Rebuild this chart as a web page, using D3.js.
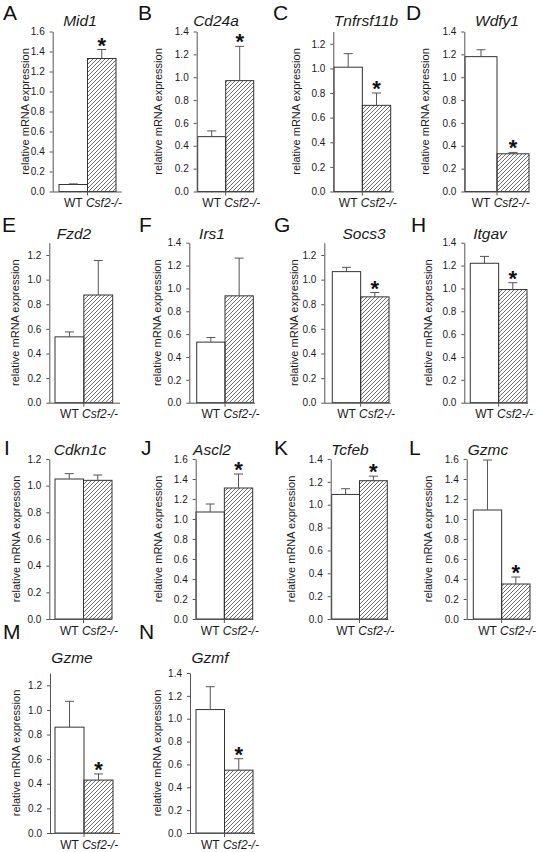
<!DOCTYPE html>
<html><head><meta charset="utf-8">
<script src="https://cdn.jsdelivr.net/npm/d3@7"></script>
<style>body{margin:0;background:#fff} svg{display:block;font-family:"Liberation Sans",Arial,sans-serif}</style>
</head><body>
<svg id="c" width="538" height="852"></svg>
<script>
// ---------- data ----------
const panelLetters = ["A","B","C","D","E","F","G","H","I","J","K","L","M","N"];
const genes = ["Mid1","Cd24a","Tnfrsf11b","Wdfy1","Fzd2","Irs1","Socs3","Itgav","Cdkn1c","Ascl2","Tcfeb","Gzmc","Gzme","Gzmf"];
const groups = ["WT","Csf2-/-"];
const wtMean = [0.07,0.48,1.01,1.18,0.535,0.53,1.065,1.22,1.05,1.07,1.09,1.09,0.86,1.08];
const wtErr  = [0.006,0.05,0.11,0.06,0.04,0.04,0.035,0.06,0.04,0.08,0.05,0.50,0.21,0.20];
const koMean = [1.33,0.97,0.70,0.33,0.875,0.935,0.86,0.99,1.04,1.31,1.21,0.35,0.43,0.55];
const koErr  = [0.09,0.30,0.10,0.012,0.28,0.33,0.035,0.06,0.04,0.14,0.04,0.07,0.05,0.10];
const significant = [true,true,true,true,false,false,true,true,false,true,true,true,true,true];
const yMax = [1.6,1.4,1.3,1.4,1.3,1.4,1.3,1.4,1.2,1.6,1.4,1.6,1.3,1.4];
const tickStep = 0.2;
const yLabel = "relative mRNA expression";

// ---------- layout (positions only) ----------
const rows = [
  {bot:191.5, letterY:20,  titleY:26},
  {bot:402.7, letterY:232, titleY:238.5},
  {bot:619,   letterY:455, titleY:454.5},
  {bot:833,   letterY:639, titleY:663}
];
const plotH = 160;
// ax: y-axis x, b0/b1: bars extent, xe: x-axis end, lx: y label x, tx: title x, gx: letter x
const layout = [
  {row:0, ax:52.7, b0:59,   b1:116,   xe:121.7, lx:25,    tx:80,  gx:3},
  {row:0, ax:196.7,b0:197.7,b1:253.7, xe:254,   lx:158,   tx:216, gx:138},
  {row:0, ax:333.3,b0:334,  b1:390.7, xe:394,   lx:296,   tx:366, gx:273},
  {row:0, ax:464.3,b0:465,  b1:529,   xe:530,   lx:425,   tx:497, gx:406},
  {row:1, ax:49.3, b0:55,   b1:112.7, xe:120,   lx:15,    tx:74,  gx:2},
  {row:1, ax:189.3,b0:196.7,b1:253.3, xe:255,   lx:156.7, tx:212, gx:139},
  {row:1, ax:324.3,b0:332.3,b1:389,   xe:390.7, lx:294,   tx:364, gx:274},
  {row:1, ax:464.3,b0:470.3,b1:527,   xe:528,   lx:427.5, tx:490, gx:411},
  {row:2, ax:49.3, b0:55,   b1:112,   xe:112,   lx:15.8,  tx:80,  gx:4},
  {row:2, ax:195.7,b0:196,  b1:252.7, xe:253.3, lx:157.5, tx:212, gx:141},
  {row:2, ax:330.7,b0:331.7,b1:387.3, xe:388.3, lx:290.8, tx:350, gx:274},
  {row:2, ax:466.7,b0:473.3,b1:530,   xe:530,   lx:427.5, tx:488, gx:409},
  {row:3, ax:50,   b0:55,   b1:113,   xe:120,   lx:16,    tx:72,  gx:3},
  {row:3, ax:190,  b0:196,  b1:253,   xe:255,   lx:157,   tx:210, gx:139}
];

const svg = d3.select("#c");
const defs = svg.append("defs");
defs.append("pattern").attr("id","hatch").attr("patternUnits","userSpaceOnUse")
  .attr("width",4).attr("height",4)
  .append("path").attr("d","M-1,1 l2,-2 M0,4 l4,-4 M3,5 l2,-2")
  .attr("stroke","#4a4a4a").attr("stroke-width",0.8);

const textCol = "#1a1a1a", axisCol = "#555";

genes.forEach((g,i)=>{
  const L = layout[i], R = rows[L.row];
  const gp = svg.append("g");
  const y = d3.scaleLinear().domain([0,yMax[i]]).range([R.bot, R.bot-plotH]);
  const x = d3.scaleBand().domain(groups).range([L.b0, L.b1]).padding(0);
  const means = [wtMean[i], koMean[i]], errs = [wtErr[i], koErr[i]];

  gp.selectAll("rect.bar").data(groups).join("rect")
    .attr("x", d=>x(d)).attr("width", x.bandwidth())
    .attr("y", (d,k)=>y(means[k])).attr("height",(d,k)=>y(0)-y(means[k]))
    .attr("fill",(d,k)=>k===0?"#fff":"url(#hatch)")
    .attr("stroke","#333").attr("stroke-width",1);

  gp.selectAll("line.eb").data(groups).join("line")
    .attr("x1",d=>x(d)+x.bandwidth()/2).attr("x2",d=>x(d)+x.bandwidth()/2)
    .attr("y1",(d,k)=>y(means[k])).attr("y2",(d,k)=>y(means[k]+errs[k]))
    .attr("stroke",axisCol).attr("stroke-width",1);
  gp.selectAll("line.cap").data(groups).join("line")
    .attr("x1",d=>x(d)+x.bandwidth()/2-4.5).attr("x2",d=>x(d)+x.bandwidth()/2+4.5)
    .attr("y1",(d,k)=>y(means[k]+errs[k])).attr("y2",(d,k)=>y(means[k]+errs[k]))
    .attr("stroke",axisCol).attr("stroke-width",1);

  const ticks = d3.range(0, yMax[i]+1e-9, tickStep);
  const ya = gp.append("g").attr("transform",`translate(${L.ax},0)`)
    .call(d3.axisLeft(y).tickValues(ticks).tickFormat(d3.format(".1f")).tickSize(3).tickSizeOuter(0).tickPadding(5));
  ya.selectAll("path,line").attr("stroke",axisCol);
  ya.selectAll("text").attr("fill",textCol).style("font-size","10px").style("font-family","'Liberation Sans',Arial,sans-serif");

  gp.append("line").attr("x1",L.ax).attr("x2",L.xe).attr("y1",R.bot+0.5).attr("y2",R.bot+0.5)
    .attr("stroke",axisCol);
  gp.append("line").attr("x1",x(groups[1])).attr("x2",x(groups[1]))
    .attr("y1",R.bot).attr("y2",R.bot+4).attr("stroke",axisCol);

  const wt = gp.append("text").attr("x",x(groups[0])+x.bandwidth()/2).attr("y",R.bot+15.5)
    .attr("text-anchor","middle").attr("fill",textCol).style("font-size","12px").text(groups[0]);
  const w = wt.node().getComputedTextLength();
  gp.append("text").attr("x",x(groups[0])+x.bandwidth()/2+w/2+3.3).attr("y",R.bot+15.5)
    .attr("fill",textCol).style("font-size","12px").style("font-style","italic").text(groups[1]);

  gp.append("text").attr("transform",`translate(${L.lx},${R.bot-plotH/2}) rotate(-90)`)
    .attr("text-anchor","middle").attr("dominant-baseline","central")
    .attr("fill",textCol).style("font-size","11px").text(yLabel);

  gp.append("text").attr("x",L.tx).attr("y",R.titleY).attr("text-anchor","middle")
    .attr("fill",textCol).style("font-size","15.5px").style("font-style","italic").text(g);

  gp.append("text").attr("x",L.gx).attr("y",R.letterY).attr("fill","#111")
    .style("font-size","21px").text(panelLetters[i]);

  if (significant[i]) {
    gp.append("text").attr("x",x(groups[1])+x.bandwidth()/2)
      .attr("y",y(koMean[i]+koErr[i])+3).attr("text-anchor","middle")
      .attr("fill","#111").style("font-size","22px").style("font-weight","bold").text("*");
  }
});
</script>
</body></html>
